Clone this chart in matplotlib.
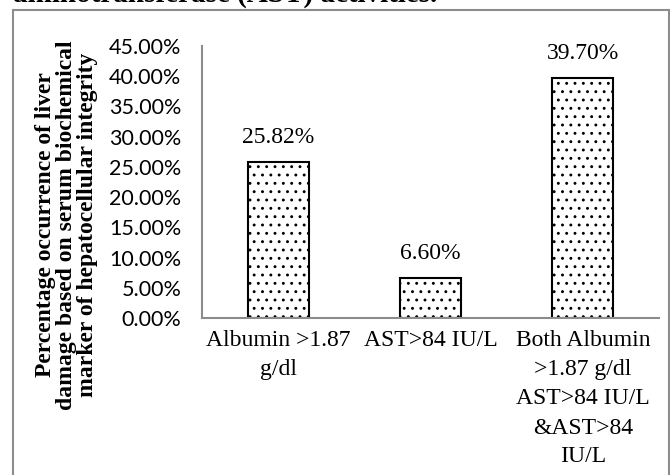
import matplotlib
matplotlib.use("Agg")
import matplotlib.pyplot as plt
from matplotlib.patches import Rectangle

# data
categories = ["Albumin >1.87\ng/dl", "AST>84 IU/L",
              "Both Albumin\n>1.87 g/dl\nAST>84 IU/L\n&AST>84\nIU/L"]
values = [25.82, 6.60, 39.70]
value_labels = ["25.82%", "6.60%", "39.70%"]
yticks = [0, 5, 10, 15, 20, 25, 30, 35, 40, 45]

serif = "Liberation Serif"
sans = "Lato"

fig = plt.figure(figsize=(6.7, 4.75), dpi=100)
ax = fig.add_axes([202/670, 1-318/475, (659-202)/670, (318-46)/475])

plt.rcParams['hatch.linewidth'] = 0.9
x = range(len(categories))
bars = ax.bar(x, values, width=0.4, color="white", edgecolor="black",
              linewidth=1.5, hatch="..")

for b, lab in zip(bars, value_labels):
    ax.annotate(lab, (b.get_x()+b.get_width()/2, b.get_height()),
                xytext=(0, 10), textcoords="offset points",
                ha="center", va="bottom", fontsize=17, family=serif)

ax.set_xlim(-0.5, 2.5)
ax.set_ylim(0, 45)
ax.set_yticks(yticks)
ax.set_yticklabels(["%.2f%%" % v for v in yticks], fontsize=15.5, family=sans)
ax.set_xticks(list(x))
ax.set_xticklabels(categories, fontsize=17, family=serif, linespacing=1.5)
ax.tick_params(length=0)
ax.tick_params(axis="y", pad=15)
ax.tick_params(axis="x", pad=9)

for s in ["top", "right"]:
    ax.spines[s].set_visible(False)
for s in ["left", "bottom"]:
    ax.spines[s].set_color("#8c8c8c")
    ax.spines[s].set_linewidth(1.5)

fig.text(67/670, 1-225/475,
         "Percentage occurrence of liver\ndamage based on serum biochemical\nmarker of hepatocellular integrity",
         rotation=90, ha="center", va="center", fontsize=17,
         fontweight="bold", family=serif, linespacing=1.0)

# frame around the chart and the cut-off caption above it
fig.patches.append(Rectangle((13/670, -0.05), (669-13)/670, 1.05-10/475,
                             transform=fig.transFigure, fill=False,
                             edgecolor="#8c8c8c", linewidth=1.5))
fig.text(13/670, 1-1.5/475, "aminotransferase (AST) activities.",
         ha="left", va="baseline", fontsize=21, fontweight="bold", family=serif)

fig.savefig("out.png", dpi=100)
